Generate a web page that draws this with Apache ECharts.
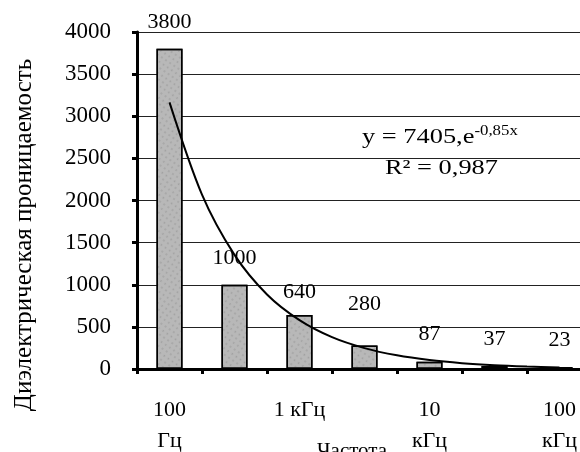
<!DOCTYPE html>
<html>
<head>
<meta charset="utf-8">
<script src="https://cdn.jsdelivr.net/npm/echarts@6/dist/echarts.min.js"></script>
<style>html,body{margin:0;padding:0;background:#fff}#c{width:580px;height:452px}</style>
</head>
<body>
<div id="c"></div>
<script>
// Data
var categories = ['100\nГц', '', '1 кГц', '', '10\nкГц', '', '100\nкГц'];
var values = [3800, 1000, 640, 280, 87, 37, 23];
// exponential trendline at half-category steps (1 = first bar)
var trendX = [1, 1.5, 2, 2.5, 3, 3.5, 4, 4.5, 5, 5.5, 6, 6.5, 7];
var trendY = [3165, 2070, 1355, 885, 580, 378, 248, 162, 106, 69, 45, 30, 19];
var yTicks = [0, 500, 1000, 1500, 2000, 2500, 3000, 3500, 4000];
var yAxisTitle = 'Диэлектрическая проницаемость';
var xAxisTitle = 'Частота';
var equation = 'y = 7405,e';
var equationExp = '-0,85x';
var r2 = 'R² = 0,987';

var FONT = '"Liberation Serif", "Times New Roman", serif';
var labelDist = [16, 16, 12, 30, 16, 16, 16];

var chart = echarts.init(document.getElementById('c'), null, {renderer: 'canvas'});
chart.setOption({
  animation: false,
  backgroundColor: '#fff',
  grid: {left: 137, right: -12, top: 32, bottom: 83, containLabel: false, outerBoundsMode: 'none'},
  xAxis: [{
    type: 'category',
    data: categories,
    boundaryGap: true,
    axisLine: {lineStyle: {color: '#000', width: 3}},
    axisTick: {show: true, interval: 0, length: 5, lineStyle: {color: '#000', width: 3}},
    axisLabel: {interval: 0, fontFamily: FONT, fontSize: 22, color: '#000', lineHeight: 31, margin: 26}
  }, {
    type: 'value', min: 0.5, max: 7.5, show: false
  }],
  yAxis: {
    type: 'value',
    min: yTicks[0],
    max: yTicks[yTicks.length - 1],
    interval: yTicks[1] - yTicks[0],
    axisLine: {show: true, lineStyle: {color: '#000', width: 3}},
    axisTick: {show: true, length: 5, lineStyle: {color: '#000', width: 3}},
    axisLabel: {fontFamily: FONT, fontSize: 23, color: '#000', margin: 26, formatter: function (v) { return String(v); }},
    splitLine: {lineStyle: {color: '#222', width: 1}}
  },
  series: [
    {
      type: 'bar',
      data: values.map(function (v, i) {
        return {value: v, label: {distance: labelDist[i]}};
      }),
      barWidth: '40%',
      itemStyle: {
        color: '#b8b8b8',
        borderColor: '#000',
        borderWidth: 1.5,
        decal: {
          symbol: 'circle',
          symbolSize: 0.8,
          dashArrayX: [[2, 3], [3, 2]],
          dashArrayY: [2, 3],
          rotation: 0.6,
          color: 'rgba(90,90,90,0.35)'
        }
      },
      label: {show: true, position: 'top', fontFamily: FONT, fontSize: 22, color: '#000'},
      z: 2
    },
    {
      type: 'line',
      xAxisIndex: 1,
      data: trendX.map(function (x, i) { return [x, trendY[i]]; }),
      smooth: 0.3,
      showSymbol: false,
      lineStyle: {color: '#000', width: 2},
      z: 3
    }
  ],
  graphic: [
    {
      type: 'text', x: 24, y: 235, rotation: Math.PI / 2,
      style: {text: yAxisTitle, font: '25px ' + FONT, fill: '#000', textAlign: 'center', textVerticalAlign: 'middle'}
    },
    {
      type: 'text', x: 352, y: 451,
      style: {text: xAxisTitle, font: '21px ' + FONT, fill: '#000', textAlign: 'center', textVerticalAlign: 'middle'}
    },
    {
      type: 'text', x: 362, y: 137, scaleX: 1.2,
      style: {
        text: '{a|' + equation + '}{b|' + equationExp + '}',
        textVerticalAlign: 'middle',
        rich: {
          a: {fontFamily: FONT, fontSize: 22, fill: '#000', color: '#000'},
          b: {fontFamily: FONT, fontSize: 14, fill: '#000', color: '#000', verticalAlign: 'top', padding: [0, 0, 12, 0]}
        }
      }
    },
    {
      type: 'text', x: 385, y: 168, scaleX: 1.2,
      style: {text: r2, font: '22px ' + FONT, fill: '#000', textVerticalAlign: 'middle'}
    }
  ]
});
</script>
</body>
</html>
